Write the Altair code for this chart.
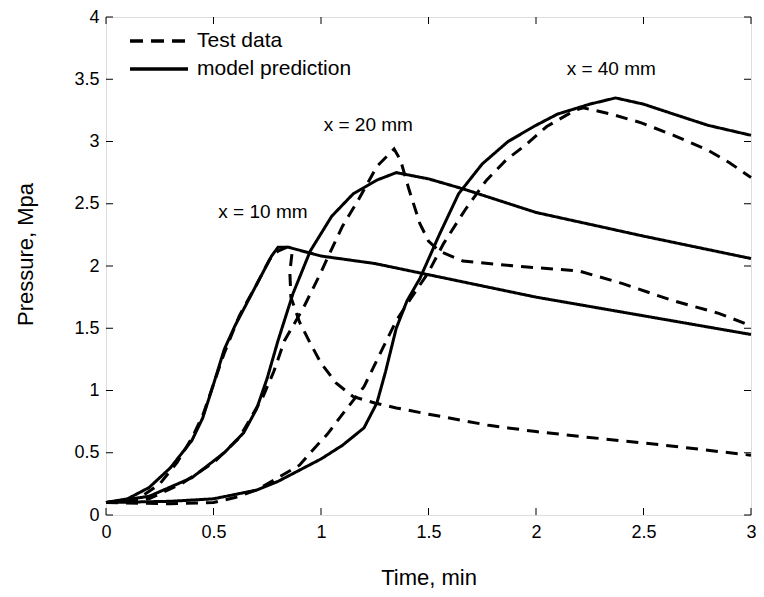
import altair as alt
import pandas as pd

# ---- data ----
m10_t = [0, 0.1, 0.2, 0.3, 0.4, 0.45, 0.5, 0.55, 0.6, 0.7, 0.77, 0.8, 0.85, 1.0, 1.25, 1.5, 2.0, 2.5, 3.0]
m10_p = [0.10, 0.13, 0.22, 0.38, 0.60, 0.78, 1.05, 1.33, 1.52, 1.85, 2.08, 2.15, 2.15, 2.08, 2.02, 1.93, 1.75, 1.60, 1.45]

m20_t = [0, 0.2, 0.4, 0.55, 0.64, 0.7, 0.75, 0.8, 0.87, 0.95, 1.05, 1.15, 1.26, 1.35, 1.5, 1.66, 2.0, 2.5, 3.0]
m20_p = [0.10, 0.15, 0.30, 0.50, 0.66, 0.85, 1.10, 1.40, 1.78, 2.12, 2.40, 2.58, 2.69, 2.75, 2.70, 2.62, 2.43, 2.24, 2.06]

m40_t = [0, 0.3, 0.5, 0.7, 0.8, 1.0, 1.1, 1.2, 1.26, 1.3, 1.35, 1.4, 1.46, 1.55, 1.64, 1.75, 1.87, 2.0, 2.1, 2.25, 2.37, 2.5, 2.64, 2.8, 3.0]
m40_p = [0.10, 0.11, 0.13, 0.20, 0.27, 0.45, 0.56, 0.70, 0.90, 1.15, 1.50, 1.72, 1.90, 2.25, 2.58, 2.82, 3.00, 3.13, 3.22, 3.30, 3.35, 3.30, 3.22, 3.13, 3.05]

t10_t = [0, 0.15, 0.25, 0.33, 0.4, 0.45, 0.5, 0.55, 0.62, 0.7, 0.76, 0.8, 0.84, 0.865, 0.855, 0.86, 0.9, 0.95, 1.0, 1.07, 1.15, 1.25, 1.35, 1.5, 1.78, 2.0, 2.21, 2.6, 3.0]
t10_p = [0.10, 0.13, 0.25, 0.42, 0.62, 0.80, 1.05, 1.30, 1.60, 1.85, 2.05, 2.12, 2.15, 2.10, 1.95, 1.75, 1.55, 1.38, 1.22, 1.06, 0.95, 0.90, 0.86, 0.81, 0.72, 0.67, 0.63, 0.56, 0.48]

t20_t = [0, 0.2, 0.35, 0.5, 0.62, 0.68, 0.73, 0.78, 0.83, 0.92, 1.0, 1.04, 1.1, 1.17, 1.26, 1.34, 1.37, 1.41, 1.46, 1.5, 1.55, 1.66, 1.9, 2.2, 2.4, 2.64, 2.85, 3.0]
t20_p = [0.10, 0.13, 0.25, 0.42, 0.62, 0.80, 0.95, 1.15, 1.40, 1.67, 1.95, 2.10, 2.32, 2.52, 2.80, 2.94, 2.85, 2.61, 2.34, 2.20, 2.12, 2.04, 2.00, 1.96, 1.86, 1.72, 1.62, 1.52]

t40_t = [0, 0.3, 0.5, 0.6, 0.7, 0.8, 0.9, 0.95, 1.03, 1.1, 1.2, 1.29, 1.35, 1.41, 1.5, 1.57, 1.67, 1.77, 1.86, 1.95, 2.05, 2.18, 2.22, 2.35, 2.49, 2.64, 2.8, 2.9, 3.0]
t40_p = [0.10, 0.09, 0.10, 0.14, 0.20, 0.30, 0.40, 0.50, 0.65, 0.81, 1.03, 1.35, 1.56, 1.72, 1.95, 2.18, 2.45, 2.69, 2.85, 2.97, 3.12, 3.25, 3.27, 3.22, 3.15, 3.05, 2.93, 2.83, 2.71]

label_text = ["x = 10 mm", "x = 20 mm", "x = 40 mm"]
label_t = [0.73, 1.22, 2.35]
label_p = [2.43, 3.13, 3.58]

x_ticks = [0, 0.5, 1, 1.5, 2, 2.5, 3]
y_ticks = [0, 0.5, 1, 1.5, 2, 2.5, 3, 3.5, 4]

TEST = "Test data"
MODEL = "model prediction"

rows = []
for name, kind, ts, ps in [
    ("m10", MODEL, m10_t, m10_p), ("m20", MODEL, m20_t, m20_p), ("m40", MODEL, m40_t, m40_p),
    ("t10", TEST, t10_t, t10_p), ("t20", TEST, t20_t, t20_p), ("t40", TEST, t40_t, t40_p),
]:
    for i, (t, p) in enumerate(zip(ts, ps)):
        rows.append({"series": name, "kind": kind, "t": t, "p": p, "i": i})
df = pd.DataFrame(rows)

labels_df = pd.DataFrame({"text": label_text, "t": label_t, "p": label_p})
xt_df = pd.DataFrame({"v": x_ticks})
yt_df = pd.DataFrame({"v": y_ticks})

W, H = 645, 498
FONT = "Liberation Sans"
TL = 7

xscale = alt.Scale(domain=[0, 3], nice=False, zero=False)
yscale = alt.Scale(domain=[0, 4], nice=False, zero=False)
dash_scale = alt.Scale(domain=[TEST, MODEL], range=[[12, 8], [1, 0]])

lines = alt.Chart(df).mark_line(strokeWidth=3, color="black", strokeCap="butt").encode(
    x=alt.X("t:Q", scale=xscale,
            axis=alt.Axis(title="Time, min", values=x_ticks, format="~g", tickSize=0, domain=False,
                          grid=False, labelPadding=8, labelFontSize=18, labelFont=FONT, labelColor="black",
                          labelFlush=False,
                          titleFont=FONT, titleFontSize=22, titleFontWeight="normal", titleColor="black",
                          titleY=69, titleBaseline="alphabetic")),
    y=alt.Y("p:Q", scale=yscale,
            axis=alt.Axis(title="Pressure, Mpa", values=y_ticks, format="~g", tickSize=0, domain=False,
                          grid=False, labelPadding=7, labelFontSize=18, labelFont=FONT, labelColor="black",
                          labelFlush=False,
                          titleFont=FONT, titleFontSize=22, titleFontWeight="normal", titleColor="black",
                          titleX=-74, titleY=237, titleAngle=270, titleAlign="center",
                          titleBaseline="alphabetic")),
    detail="series:N",
    order="i:Q",
    strokeDash=alt.StrokeDash("kind:N", scale=dash_scale, legend=None),
)

texts = alt.Chart(labels_df).mark_text(font=FONT, fontSize=19, color="black").encode(
    x=alt.X("t:Q", scale=xscale), y=alt.Y("p:Q", scale=yscale), text="text:N"
)

# manual legend (top-left, inside the frame)
leg_test_df = pd.DataFrame({"kind": [TEST]})
leg_model_df = pd.DataFrame({"kind": [MODEL]})


def legend_entry(d, ypix, dash):
    sym = alt.Chart(d).mark_rule(strokeWidth=3.5, color="black", strokeCap="butt",
                                 strokeDash=dash).encode(
        y=alt.value(ypix), x=alt.value(24), x2=alt.value(82))
    txt = alt.Chart(d).mark_text(font=FONT, fontSize=21, color="black", align="left",
                                 baseline="middle").encode(
        y=alt.value(ypix), x=alt.value(91), text="kind:N")
    return sym, txt


ls1, lt1 = legend_entry(leg_test_df, 24, [13, 8])
ls2, lt2 = legend_entry(leg_model_df, 52, [1, 0])

bt = alt.Chart(xt_df).mark_rule(color="black", strokeWidth=1).encode(
    x=alt.X("v:Q", scale=xscale), y=alt.value(H), y2=alt.value(H - TL))
tt = alt.Chart(xt_df).mark_rule(color="black", strokeWidth=1).encode(
    x=alt.X("v:Q", scale=xscale), y=alt.value(0), y2=alt.value(TL))
lt = alt.Chart(yt_df).mark_rule(color="black", strokeWidth=1).encode(
    y=alt.Y("v:Q", scale=yscale), x=alt.value(0), x2=alt.value(TL))
rt = alt.Chart(yt_df).mark_rule(color="black", strokeWidth=1).encode(
    y=alt.Y("v:Q", scale=yscale), x=alt.value(W), x2=alt.value(W - TL))

chart = alt.layer(lines, bt, tt, lt, rt, texts, ls1, lt1, ls2, lt2).properties(
    width=W, height=H,
    autosize=alt.AutoSizeParams(type="none"),
    padding={"left": 98, "top": 9, "right": 5, "bottom": 74},
).configure_view(stroke="black", strokeWidth=1.2).configure(background="white")

chart.save("out.html", embed_options={"renderer": "svg", "actions": False})
